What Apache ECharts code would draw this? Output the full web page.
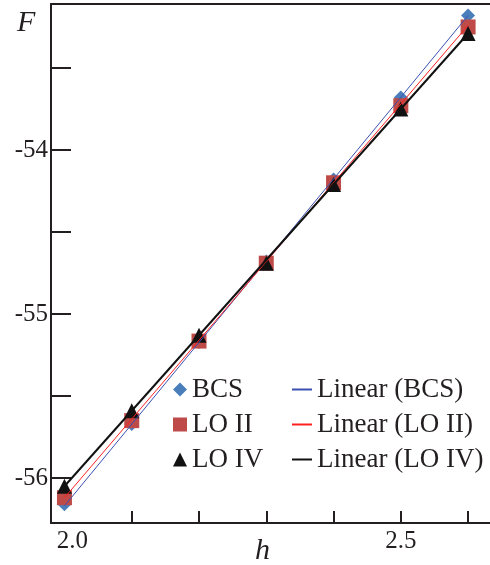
<!DOCTYPE html>
<html style="height: 100%; width: 100%">
  <head>
    <meta charset="utf-8" />
  </head>
  <body style="height: 100%; width: 100%; margin: 0">
    <div id="chart-panel" style="height: 565px; width: 490px"></div>
    <script
      type="text/javascript"
      src="https://cdn.jsdelivr.net/npm/echarts@6/dist/echarts.min.js"
    ></script>
    <script type="text/javascript">
      var h = [2.0, 2.1, 2.2, 2.3, 2.4, 2.5, 2.6];
      var bcs = [-56.16, -55.67, -55.17, -54.68, -54.18, -53.68, -53.18];
      var loII = [-56.12, -55.65, -55.165, -54.69, -54.2, -53.73, -53.25];
      var loIV = [-56.05, -55.59, -55.13, -54.69, -54.21, -53.75, -53.29];

      // trend line ends at h = 2.0 and h = 2.6
      var trendH = [2.0, 2.6];
      var trendBCS = [-56.17, -53.18];
      var trendLOII = [-56.12, -53.24];
      var trendLOIV = [-56.05, -53.29];

      var xTicks = [2.1, 2.2, 2.3, 2.4, 2.5, 2.6];
      var xLabels = [2.0, 2.5];
      var yTicks = [-56, -55.5, -55, -54.5, -54, -53.5];
      var yLabels = [-56, -55, -54];

      var font = "Liberation Serif";
      var ink = "#231f20";

      function pairs(xs, ys) {
        return xs.map(function (x, i) {
          return [x, ys[i]];
        });
      }

      var myChart = echarts.init(document.getElementById("chart-panel"));
      var option = {
        animation: false,
        grid: {
          left: 51,
          right: -5,
          top: 4,
          bottom: 42,
          outerBoundsMode: "none",
        },
        xAxis: [
          {
            type: "value",
            min: 1.98,
            max: 2.64,
            splitLine: { show: false },
            axisLine: { lineStyle: { color: ink, width: 2 } },
            axisTick: {
              inside: true,
              length: 12,
              customValues: xTicks,
              lineStyle: { color: ink, width: 2 },
            },
            axisLabel: {
              customValues: xLabels,
              margin: 6,
              color: ink,
              fontFamily: font,
              fontSize: 25,
              formatter: function (v) {
                return v < 2.2 ? "{s|" + v.toFixed(1) + "}" : v.toFixed(1);
              },
              rich: {
                s: {
                  padding: [0, 0, 0, 16],
                  color: ink,
                  fontFamily: font,
                  fontSize: 25,
                },
              },
            },
          },
          {
            // top frame line only
            type: "value",
            position: "top",
            min: 1.98,
            max: 2.64,
            splitLine: { show: false },
            axisLine: { show: true, lineStyle: { color: ink, width: 2 } },
            axisTick: { show: false },
            axisLabel: { show: false },
          },
        ],
        yAxis: {
          type: "value",
          min: -56.274,
          max: -53.11,
          splitLine: { show: false },
          axisLine: { lineStyle: { color: ink, width: 2 } },
          axisTick: {
            inside: true,
            length: 20,
            customValues: yTicks,
            lineStyle: { color: ink, width: 2 },
          },
          axisLabel: {
            customValues: yLabels,
            margin: 3,
            color: ink,
            fontFamily: font,
            fontSize: 25,
          },
        },
        legend: [
          {
            data: ["BCS", "LO II", "LO IV"],
            orient: "vertical",
            left: 168,
            top: 371,
            itemWidth: 14,
            itemHeight: 14,
            itemGap: 8,
            textStyle: { color: ink, fontFamily: font, fontSize: 27 },
          },
          {
            data: [
              { name: "Linear (BCS)", icon: "rect" },
              { name: "Linear (LO II)", icon: "rect" },
              { name: "Linear (LO IV)", icon: "rect" },
            ],
            orient: "vertical",
            left: 287,
            top: 371,
            itemWidth: 20,
            itemHeight: 2,
            itemGap: 8,
            textStyle: { color: ink, fontFamily: font, fontSize: 27 },
          },
        ],
        graphic: [
          {
            type: "text",
            left: 17,
            top: 8,
            style: {
              text: "F",
              fill: ink,
              font: "italic 30px 'Liberation Serif'",
            },
          },
          {
            type: "text",
            left: 255,
            top: 536,
            style: {
              text: "h",
              fill: ink,
              font: "italic 30px 'Liberation Serif'",
            },
          },
        ],
        series: [
          {
            name: "BCS",
            type: "scatter",
            symbol: "diamond",
            symbolSize: 14,
            itemStyle: { color: "#4a7ebb", opacity: 1 },
            data: pairs(h, bcs),
            z: 2,
          },
          {
            name: "LO II",
            type: "scatter",
            symbol: "rect",
            symbolSize: 15,
            itemStyle: { color: "#be4b48", opacity: 1 },
            data: pairs(h, loII),
            z: 3,
          },
          {
            name: "LO IV",
            type: "scatter",
            symbol: "triangle",
            symbolSize: 15,
            itemStyle: { color: "#111111", opacity: 1 },
            data: pairs(h, loIV),
            z: 4,
          },
          {
            name: "Linear (BCS)",
            type: "line",
            symbol: "none",
            color: "#3b50b0",
            lineStyle: { width: 1, color: "#3b50b0" },
            data: pairs(trendH, trendBCS),
            z: 5,
          },
          {
            name: "Linear (LO II)",
            type: "line",
            symbol: "none",
            color: "#ff2020",
            lineStyle: { width: 1, color: "#ff2020" },
            data: pairs(trendH, trendLOII),
            z: 6,
          },
          {
            name: "Linear (LO IV)",
            type: "line",
            symbol: "none",
            color: "#111111",
            lineStyle: { width: 2, color: "#111111" },
            data: pairs(trendH, trendLOIV),
            z: 7,
          },
        ],
      };
      myChart.setOption(option);
    </script>
  </body>
</html>
